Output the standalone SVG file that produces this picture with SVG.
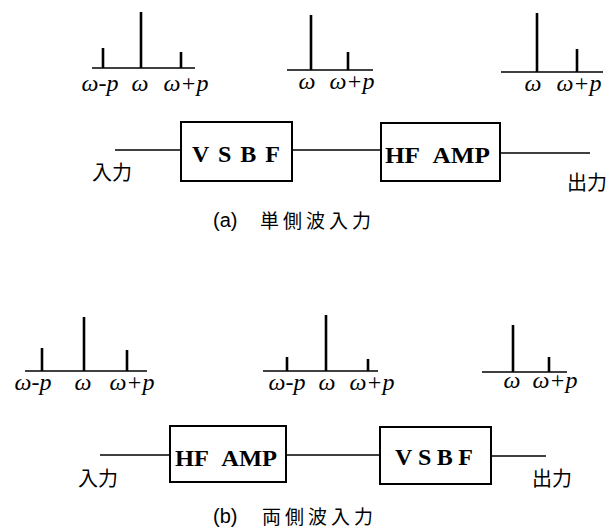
<svg xmlns="http://www.w3.org/2000/svg" width="615" height="531" viewBox="0 0 615 531">
<style>
.ax{stroke:#000;stroke-width:1.6;fill:none}
.st{stroke:#000;stroke-width:2.6;fill:none}
.box{stroke:#000;stroke-width:2;fill:#fff}
.ln{stroke:#000;stroke-width:1.4;fill:none}
.w{font-family:"Liberation Serif","DejaVu Serif",serif;font-style:italic;font-size:24px;fill:#000}
.bt{font-family:"Liberation Serif","DejaVu Serif",serif;font-weight:bold;font-size:24px;fill:#000;white-space:pre}
.jp{font-family:"Noto Sans CJK JP","Noto Sans",sans-serif;font-size:20px;fill:#000}
.cap{font-family:"Liberation Sans","Noto Sans",sans-serif;font-size:20px;fill:#000}
.cj{font-family:"Noto Sans CJK JP",sans-serif;font-size:19px;letter-spacing:4px;fill:#000}
</style>
<rect width="615" height="531" fill="#fff"/>

<g id="spectrum-a1">
<line class="ax" x1="92" y1="68" x2="195" y2="68"/>
<line class="st" x1="103" y1="48" x2="103" y2="68"/>
<line class="st" x1="141" y1="12" x2="141" y2="68"/>
<line class="st" x1="181" y1="52" x2="181" y2="68"/>
<text class="w" x="100" y="91" text-anchor="middle">ω-p</text>
<text class="w" x="140" y="91" text-anchor="middle">ω</text>
<text class="w" x="186" y="91" text-anchor="middle">ω+p</text>
</g>
<g id="spectrum-a2">
<line class="ax" x1="287" y1="70" x2="373" y2="70"/>
<line class="st" x1="311" y1="15" x2="311" y2="70"/>
<line class="st" x1="348" y1="52" x2="348" y2="70"/>
<text class="w" x="307" y="89" text-anchor="middle">ω</text>
<text class="w" x="352" y="89" text-anchor="middle">ω+p</text>
</g>
<g id="spectrum-a3">
<line class="ax" x1="501" y1="72" x2="603" y2="72"/>
<line class="st" x1="537" y1="13" x2="537" y2="72"/>
<line class="st" x1="577" y1="49" x2="577" y2="72"/>
<text class="w" x="533" y="91" text-anchor="middle">ω</text>
<text class="w" x="579" y="91" text-anchor="middle">ω+p</text>
</g>

<g id="connectors">
<line class="ln" x1="115" y1="150" x2="181" y2="150"/>
<line class="ln" x1="292" y1="150" x2="381" y2="150"/>
<line class="ln" x1="500" y1="153" x2="590" y2="153"/>
<line class="ln" x1="100" y1="455" x2="170" y2="455"/>
<line class="ln" x1="286" y1="455" x2="380" y2="455"/>
<line class="ln" x1="491" y1="456" x2="546" y2="456"/>
</g>

<g id="label-in-a"><text class="jp" x="92" y="180">入力</text></g>
<g id="box-vsbf-a">
<rect class="box" x="181" y="122" width="111" height="59"/>
<text class="bt" x="192" y="162" textLength="88" lengthAdjust="spacing">V S B F</text>
</g>
<g id="box-hfamp-a">
<rect class="box" x="381" y="123" width="119" height="58"/>
<text class="bt" x="385" y="163" textLength="105" lengthAdjust="spacingAndGlyphs">HF&#160;&#160;AMP</text>
</g>
<g id="label-out-a"><text class="jp" x="567" y="190">出力</text></g>
<g id="caption-a">
<text class="cap" x="213" y="227">(a)</text>
<text class="cj" x="260" y="228">単側波入力</text>
</g>

<g id="spectrum-b1">
<line class="ax" x1="25" y1="371" x2="147" y2="371"/>
<line class="st" x1="42" y1="348" x2="42" y2="371"/>
<line class="st" x1="84" y1="317" x2="84" y2="371"/>
<line class="st" x1="127" y1="350" x2="127" y2="371"/>
<text class="w" x="33" y="390" text-anchor="middle">ω-p</text>
<text class="w" x="83" y="390" text-anchor="middle">ω</text>
<text class="w" x="132" y="390" text-anchor="middle">ω+p</text>
</g>
<g id="spectrum-b2">
<line class="ax" x1="263" y1="371" x2="378" y2="371"/>
<line class="st" x1="287" y1="357" x2="287" y2="371"/>
<line class="st" x1="326" y1="315" x2="326" y2="371"/>
<line class="st" x1="368" y1="359" x2="368" y2="371"/>
<text class="w" x="287" y="390" text-anchor="middle">ω-p</text>
<text class="w" x="327" y="390" text-anchor="middle">ω</text>
<text class="w" x="372" y="390" text-anchor="middle">ω+p</text>
</g>
<g id="spectrum-b3">
<line class="ax" x1="482" y1="372" x2="567" y2="372"/>
<line class="st" x1="513" y1="325" x2="513" y2="372"/>
<line class="st" x1="549" y1="357" x2="549" y2="372"/>
<text class="w" x="512" y="388" text-anchor="middle">ω</text>
<text class="w" x="555" y="388" text-anchor="middle">ω+p</text>
</g>

<g id="label-in-b"><text class="jp" x="78" y="486">入力</text></g>
<g id="box-hfamp-b">
<rect class="box" x="170" y="426" width="116" height="56"/>
<text class="bt" x="175" y="466" textLength="102" lengthAdjust="spacingAndGlyphs">HF&#160;&#160;AMP</text>
</g>
<g id="box-vsbf-b">
<rect class="box" x="380" y="427" width="111" height="57"/>
<text class="bt" x="395" y="465" textLength="78" lengthAdjust="spacing">VSBF</text>
</g>
<g id="label-out-b"><text class="jp" x="532" y="486">出力</text></g>
<g id="caption-b">
<text class="cap" x="213" y="523">(b)</text>
<text class="cj" x="262" y="524">両側波入力</text>
</g>
</svg>
